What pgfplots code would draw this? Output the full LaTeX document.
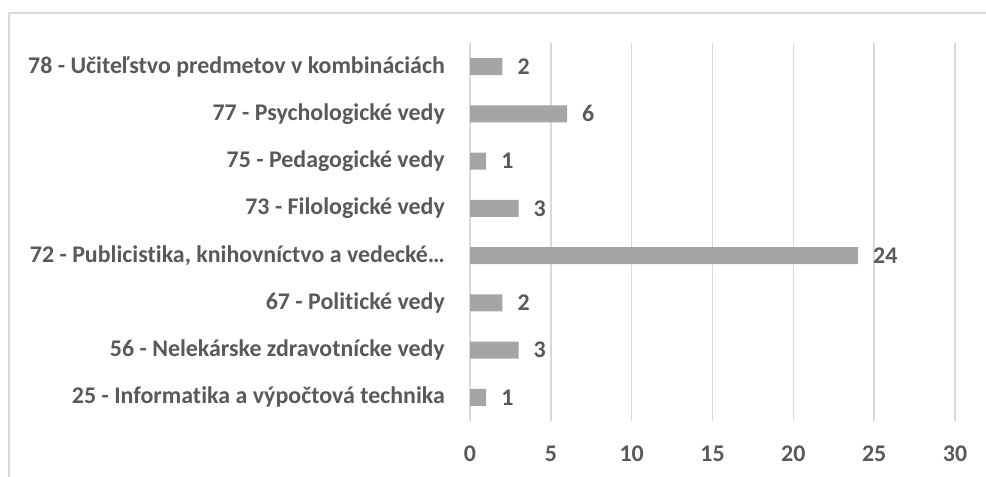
\documentclass[border=0pt]{standalone}
\usepackage{pgfplots}
\pgfplotsset{compat=1.18}
\usepackage{fontspec}
\setmainfont{Carlito}[Ligatures=NoCommon]
\definecolor{txt}{HTML}{595959}
\definecolor{barc}{HTML}{A5A5A5}
\definecolor{gridc}{HTML}{D9D9D9}
\begin{document}
\begin{tikzpicture}[x=1bp,y=1bp]
\useasboundingbox (0,0) rectangle (986,477);
\draw[gridc, line width=1.5bp] (9,0) -- (9,464) -- (986,464);
\begin{axis}[
  at={(470bp,56bp)}, anchor=south west,
  scale only axis, width=485bp, height=378bp,
  xbar, bar width=17bp,
  xmin=0, xmax=30, ymin=-0.5, ymax=7.5,
  xtick={0,5,...,30}, ytick={0,...,7},
  yticklabels={{25 - Informatika a výpočtová technika},
    {56 - Nelekárske zdravotnícke vedy},
    {67 - Politické vedy},
    {72 - Publicistika, knihovníctvo a vedecké…},
    {73 - Filologické vedy},
    {75 - Pedagogické vedy},
    {77 - Psychologické vedy},
    {78 - Učiteľstvo predmetov v kombináciách}},
  axis line style={draw=none},
  major tick length=0,
  xmajorgrids, major grid style={gridc, line width=1.5bp},
  /pgf/number format/assume math mode=true,
  tick label style={font=\bfseries\fontsize{24}{28}\selectfont, text=txt, inner sep=0pt},
  xticklabel style={anchor=north, yshift=-25bp},
  yticklabel style={anchor=east, xshift=-25bp},
  nodes near coords,
  every node near coord/.append style={anchor=west, xshift=15bp, inner sep=0pt, text=txt, font=\bfseries\fontsize{24}{28}\selectfont},
  clip=false,
]
\addplot[fill=barc, draw=none] coordinates {(1,0) (3,1) (2,2) (24,3) (3,4) (1,5) (6,6) (2,7)};
\end{axis}
\end{tikzpicture}
\end{document}
